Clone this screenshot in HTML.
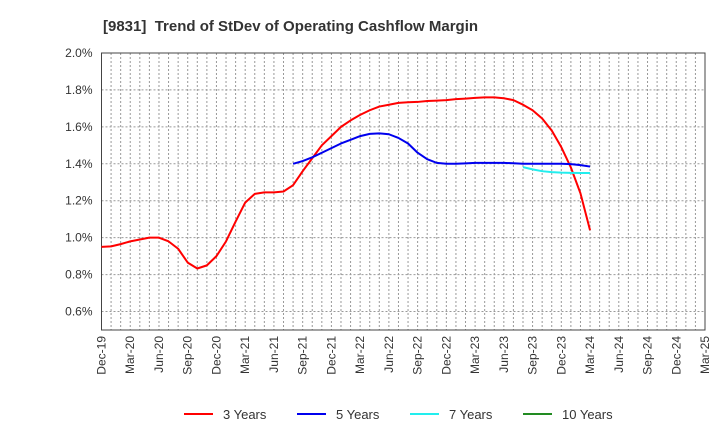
<!DOCTYPE html>
<html><head><meta charset="utf-8"><style>body{margin:0;background:#fff}svg{font-family:"Liberation Sans",sans-serif}</style></head>
<body>
<svg id="c" width="720" height="440">
<text x="103" y="31" font-size="15" font-weight="bold" fill="#333">[9831]&#160; Trend of StDev of Operating Cashflow Margin</text>
<g id="grid"></g><g id="axes"></g><g id="series"></g><g id="legend"></g>
</svg>
<script>
const xLabels=["Dec-19","Mar-20","Jun-20","Sep-20","Dec-20","Mar-21","Jun-21","Sep-21","Dec-21","Mar-22","Jun-22","Sep-22","Dec-22","Mar-23","Jun-23","Sep-23","Dec-23","Mar-24","Jun-24","Sep-24","Dec-24","Mar-25"];
const yTicks=[0.6,0.8,1.0,1.2,1.4,1.6,1.8,2.0];
const s3Start=0;
const s3=[.95,.953,.965,.98,.99,1.0,1.0,.98,.94,.865,.833,.85,.90,.98,1.087,1.19,1.237,1.245,1.245,1.25,1.284,1.36,1.43,1.50,1.55,1.60,1.635,1.665,1.69,1.71,1.72,1.73,1.733,1.735,1.74,1.742,1.745,1.75,1.753,1.757,1.76,1.76,1.755,1.745,1.72,1.69,1.645,1.58,1.49,1.38,1.24,1.04];
const s5Start=20;
const s5=[1.40,1.415,1.435,1.46,1.485,1.51,1.53,1.55,1.562,1.565,1.56,1.54,1.51,1.46,1.425,1.405,1.40,1.40,1.402,1.405,1.405,1.405,1.405,1.403,1.40,1.40,1.40,1.40,1.40,1.398,1.393,1.385];
const s7Start=44;
const s7=[1.382,1.37,1.36,1.355,1.352,1.351,1.35,1.35];
const s10Start=0;
const s10=[];
const L=101.5,R=705,T=53,B=330,NM=63,ymin=0.5,ymax=2.0;
const X=i=>L+(R-L)*i/NM, Y=v=>B-(B-T)*(v-ymin)/(ymax-ymin);
const NS="http://www.w3.org/2000/svg";
function mk(t,a,p){const e=document.createElementNS(NS,t);for(const k in a)e.setAttribute(k,a[k]);p.appendChild(e);return e;}
const g=document.getElementById('grid'),ax=document.getElementById('axes'),se=document.getElementById('series'),lg=document.getElementById('legend');
for(let i=1;i<NM;i++){const l=mk('line',{x1:X(i),x2:X(i),y1:T,y2:B,stroke:'#999','stroke-dasharray':'2,2','stroke-width':1},g);

}
yTicks.forEach(v=>{const l=mk('line',{x1:L,x2:R,y1:Y(v),y2:Y(v),stroke:'#999','stroke-dasharray':'2,2'},g);


const t=mk('text',{x:L-9,y:Y(v)+4,'text-anchor':'end','font-size':12,fill:'#333'},ax);t.textContent=v.toFixed(1)+'%';

});
const fr=mk('rect',{x:L,y:T,width:R-L,height:B-T,fill:'none',stroke:'#444'},ax);


xLabels.forEach((s,i)=>{const x=X(i*3);const t=mk('text',{transform:`translate(${x+4},${B+6}) rotate(-90)`,'text-anchor':'end','font-size':12,fill:'#333'},ax);t.textContent=s;

});
function line(arr,st,col,name){if(!arr.length)return;const p=mk('polyline',{points:arr.map((v,i)=>X(st+i)+','+Y(v)).join(' '),fill:'none',stroke:col,'stroke-width':2,'stroke-linejoin':'round'},se);

}
line(s3,s3Start,'#ff0000','series-3-years');line(s5,s5Start,'#0000ee','series-5-years');line(s7,s7Start,'#22eeee','series-7-years');line(s10,s10Start,'#228b22','series-10-years');
[["3 Years","#ff0000",184],["5 Years","#0000ee",297],["7 Years","#22eeee",410],["10 Years","#228b22",523]].forEach(([n,c,x])=>{
const gg=mk('g',{},lg);


mk('line',{x1:x,x2:x+29,y1:414,y2:414,stroke:c,'stroke-width':2},gg);
const t=mk('text',{x:x+39,y:419,'font-size':13,fill:'#333'},gg);t.textContent=n;});
</script>
</body></html>
